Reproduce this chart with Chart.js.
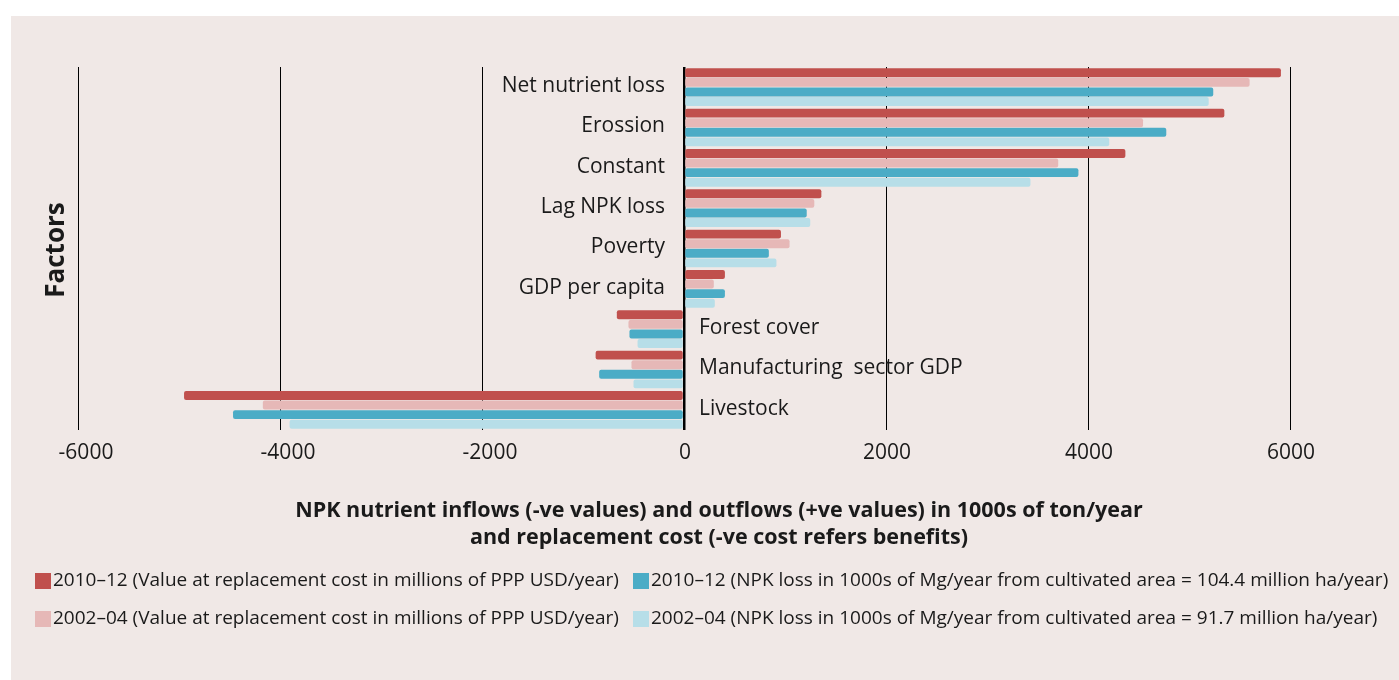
<!DOCTYPE html>
<html>
<head>
<meta charset="utf-8">
<script src="https://cdn.jsdelivr.net/npm/chart.js@4/dist/chart.umd.min.js"></script>
<style>
  html, body { margin: 0; padding: 0; background: #ffffff; }
  #panel { position: absolute; left: 11px; top: 16px; width: 1388px; height: 664px; background: #f0e8e6; }
</style>
</head>
<body>
<div id="panel"><canvas id="chart"></canvas></div>
<script>
'use strict';

const categories = [
  'Net nutrient loss', 'Erossion', 'Constant', 'Lag NPK loss', 'Poverty',
  'GDP per capita', 'Forest cover', 'Manufacturing  sector GDP', 'Livestock',
];
const cost2010 = [5910, 5350, 4370, 1360, 960, 405, -665, -875, -4950];
const cost2002 = [5600, 4545, 3705, 1290, 1045, 295, -550, -520, -4170];
const npk2010 = [5240, 4775, 3905, 1215, 840, 405, -540, -840, -4465];
const npk2002 = [5195, 4210, 3430, 1250, 915, 305, -460, -500, -3905];
const xTicks = [-6000, -4000, -2000, 0, 2000, 4000, 6000];

const seriesLabels = [
  '2010–12 (Value at replacement cost in millions of PPP USD/year)',
  '2002–04 (Value at replacement cost in millions of PPP USD/year)',
  '2010–12 (NPK loss in 1000s of Mg/year from cultivated area = 104.4 million ha/year)',
  '2002–04 (NPK loss in 1000s of Mg/year from cultivated area = 91.7 million ha/year)',
];
const seriesColors = ['#c0504d', '#e6b8b7', '#4bacc6', '#b7dee8'];
const legendOrder = [0, 2, 1, 3];
const xTitleLines = [
  'NPK nutrient inflows (-ve values) and outflows (+ve values) in 1000s of ton/year',
  'and replacement cost (-ve cost refers benefits)',
];

const FONT = '"Open Sans", "Noto Sans", sans-serif';
const TEXT = '#1a1a1a';

const labelsPlugin = {
  id: 'labelsPlugin',
  afterDraw(chart) {
    const ctx = chart.ctx;
    const xs = chart.scales.x;
    const ys = chart.scales.y;
    const zero = xs.getPixelForValue(0);
    ctx.save();
    ctx.fillStyle = TEXT;

    // tick labels
    ctx.font = '21px ' + FONT;
    ctx.textAlign = 'center';
    ctx.textBaseline = 'middle';
    xTicks.forEach(v => {
      const shift = v < 0 ? 8 : 1;
      ctx.fillText(String(v), xs.getPixelForValue(v) + shift, chart.chartArea.bottom + 23);
    });

    // category labels next to the zero line
    ctx.font = '21px ' + FONT;
    categories.forEach((name, i) => {
      const y = ys.getPixelForValue(i) - 1;
      if (cost2010[i] >= 0) {
        ctx.textAlign = 'right';
        ctx.fillText(name, zero - 19, y);
      } else {
        ctx.textAlign = 'left';
        ctx.fillText(name, zero + 15, y);
      }
    });

    // axis titles
    ctx.font = 'bold 21.5px ' + FONT;
    ctx.textAlign = 'center';
    xTitleLines.forEach((line, i) => {
      ctx.fillText(line, 708, 495 + i * 27);
    });
    ctx.save();
    ctx.translate(46, 234);
    ctx.rotate(-Math.PI / 2);
    ctx.font = 'bold 26px ' + FONT;
    ctx.fillText('Factors', 0, 0);
    ctx.restore();

    // legend
    ctx.font = '19px ' + FONT;
    ctx.textAlign = 'left';
    legendOrder.forEach((k, n) => {
      const col = n % 2;
      const row = Math.floor(n / 2);
      const x = col === 0 ? 24 : 622;
      const y = 565 + row * 38;
      ctx.fillStyle = seriesColors[k];
      ctx.fillRect(x, y - 8, 16, 16);
      ctx.fillStyle = TEXT;
      ctx.fillText(seriesLabels[k], x + 18, y);
    });
    ctx.restore();
  },
};

function makeDataset(i, values) {
  return {
    label: seriesLabels[i],
    data: values,
    backgroundColor: seriesColors[i],
    borderRadius: 2,
    borderSkipped: false,
    categoryPercentage: 0.95,
    barPercentage: 0.93,
  };
}

function onContentLoad() {
  const ctx = document.getElementById('chart').getContext('2d');
  new Chart(ctx, {
    type: 'bar',
    data: {
      labels: categories,
      datasets: [
        makeDataset(0, cost2010),
        makeDataset(1, cost2002),
        makeDataset(2, npk2010),
        makeDataset(3, npk2002),
      ],
    },
    options: {
      indexAxis: 'y',
      responsive: true,
      maintainAspectRatio: false,
      animation: false,
      layout: { padding: { left: 67, right: 109, top: 51, bottom: 250 } },
      plugins: { legend: { display: false }, tooltip: { enabled: false } },
      scales: {
        x: {
          min: -6000,
          max: 6000,
          z: 1,
          ticks: { display: false, stepSize: 2000 },
          border: { display: false },
          grid: {
            color: '#000000',
            drawTicks: false,
            lineWidth: c => (c.tick && c.tick.value === 0 ? 2.5 : 1),
          },
        },
        y: {
          display: false,
        },
      },
    },
    plugins: [labelsPlugin],
  });
}

document.addEventListener('DOMContentLoaded', onContentLoad);
</script>
</body>
</html>
